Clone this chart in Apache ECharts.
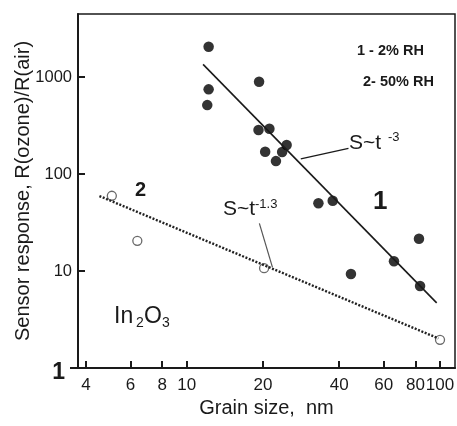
<!DOCTYPE html>
<html>
<head>
<meta charset="utf-8">
<script src="https://cdn.jsdelivr.net/npm/echarts@6/dist/echarts.min.js"></script>
<style>
  html, body { margin: 0; padding: 0; background: #fff; }
  #chart { width: 457px; height: 426px; }
</style>
</head>
<body>
<div id="chart"></div>
<script>
    'use strict';

    // series 1 (2% RH), filled dots: [grain size nm, response]
    var dry_points = [
        [12.2, 2050], [19.3, 895], [12.2, 747], [12.05, 514],
        [19.2, 284], [21.2, 293], [20.4, 170], [24.8, 199],
        [23.8, 169], [22.5, 136], [33.1, 50], [37.7, 53],
        [82.6, 21.5], [65.8, 12.6], [44.5, 9.3], [83.4, 7.0]
    ];
    // series 2 (50% RH), open circles
    var wet_points = [[5.06, 59.7], [6.38, 20.5], [20.2, 10.7], [100, 1.95]];

    // fitted lines
    var fit1 = [[11.6, 1350], [97, 4.7]];
    var fit2 = [[4.52, 59.3], [98.5, 2.02]];

    // leader lines of the S~t labels
    var lead1 = [[28.2, 143], [43.5, 184]];
    var lead2 = [[19.35, 31], [21.8, 10.9]];

    var x_ticks = [4, 6, 8, 10, 20, 40, 60, 80, 100];
    var y_ticks = [1, 10, 100, 1000];

    var sans = "'Liberation Sans', Arial, sans-serif";
    var ink = '#1a1a1a';

    var chart = echarts.init(document.getElementById('chart'));

    var option = {
        animation: false,
        backgroundColor: '#fff',
        grid: {
            left: 78, right: 2, top: 14, bottom: 58,
            outerBoundsMode: 'none',
            containLabel: false,
            show: true,
            borderColor: ink,
            borderWidth: 1.5
        },
        xAxis: {
            type: 'log',
            logBase: 10,
            min: 3.72,
            max: 114.6,
            name: 'Grain size,  nm',
            nameLocation: 'middle',
            nameMoveOverlap: false,
            nameGap: 30,
            nameTextStyle: { fontFamily: sans, fontSize: 20, color: ink },
            axisLine: { show: true, lineStyle: { color: ink, width: 2 } },
            axisTick: {
                show: true, inside: true, length: 7,
                customValues: x_ticks,
                lineStyle: { color: ink, width: 2 }
            },
            axisLabel: {
                customValues: x_ticks,
                margin: 9,
                fontFamily: sans, fontSize: 17, color: ink,
                formatter: function (v) { return String(Math.round(v)); }
            },
            splitLine: { show: false },
            minorTick: { show: false }
        },
        yAxis: {
            type: 'log',
            logBase: 10,
            min: 1,
            max: 4470,
            name: 'Sensor response, R(ozone)/R(air)',
            nameLocation: 'middle',
            nameMoveOverlap: false,
            nameGap: 45,
            nameTextStyle: { fontFamily: sans, fontSize: 20, color: ink },
            axisLine: { show: true, lineStyle: { color: ink, width: 2 } },
            axisTick: {
                show: true, inside: true, length: 7,
                customValues: y_ticks,
                lineStyle: { color: ink, width: 2 }
            },
            axisLabel: {
                customValues: y_ticks,
                margin: 6,
                fontFamily: sans, fontSize: 16.5, color: ink,
                formatter: function (v) {
                    var s = String(Math.round(v));
                    return s === '1' ? '{one|1}' : s;
                },
                rich: {
                    one: { fontFamily: sans, fontSize: 23, fontWeight: 'bold', color: ink, padding: [9, 7, 0, 0] }
                }
            },
            splitLine: { show: false },
            minorTick: { show: false }
        },
        series: [
            {
                name: 'fit1', type: 'line', data: fit1,
                symbol: 'none', silent: true,
                lineStyle: { color: ink, width: 1.6 }
            },
            {
                name: 'fit2', type: 'line', data: fit2,
                symbol: 'none', silent: true,
                lineStyle: { color: '#222', width: 2.4, type: [2, 1.6] }
            },
            {
                name: 'lead1', type: 'line', data: lead1,
                symbol: 'none', silent: true,
                lineStyle: { color: ink, width: 1.3 }
            },
            {
                name: 'lead2', type: 'line', data: lead2,
                symbol: 'none', silent: true,
                lineStyle: { color: '#555', width: 1.2 }
            },
            {
                name: '1', type: 'scatter', data: dry_points,
                symbol: 'circle', symbolSize: 10.5,
                itemStyle: { color: '#000' }
            },
            {
                name: '2', type: 'scatter', data: wet_points,
                symbol: 'circle', symbolSize: 9,
                itemStyle: { color: '#fff', borderColor: '#444', borderWidth: 1.3 }
            }
        ],
        graphic: [
            // x axis line runs a little past the y axis
            { type: 'line', shape: { x1: 70, y1: 368, x2: 79, y2: 368 }, style: { stroke: ink, lineWidth: 2 } },
            { type: 'text', left: 357, top: 43, style: { text: '1 - 2% RH', fontFamily: sans, fontSize: 14.5, fontWeight: 'bold', fill: ink } },
            { type: 'text', left: 363, top: 74, style: { text: '2- 50% RH', fontFamily: sans, fontSize: 14.5, fontWeight: 'bold', fill: ink } },
            { type: 'text', left: 373, top: 189, style: { text: '1', fontFamily: sans, fontSize: 26, fontWeight: 'bold', fill: ink } },
            { type: 'text', left: 135, top: 180, style: { text: '2', fontFamily: sans, fontSize: 20, fontWeight: 'bold', fill: ink } },
            { type: 'text', left: 349, top: 133, style: { text: 'S~t', fontFamily: sans, fontSize: 21, fill: ink } },
            { type: 'text', left: 388, top: 131, style: { text: '-3', fontFamily: sans, fontSize: 13, fill: ink } },
            { type: 'text', left: 223, top: 199, style: { text: 'S~t', fontFamily: sans, fontSize: 21, fill: ink } },
            { type: 'text', left: 255, top: 198, style: { text: '-1.3', fontFamily: sans, fontSize: 13, fill: ink } },
            { type: 'text', left: 114, top: 305, style: { text: 'In', fontFamily: sans, fontSize: 23, fill: ink } },
            { type: 'text', left: 136, top: 316, style: { text: '2', fontFamily: sans, fontSize: 14, fill: ink } },
            { type: 'text', left: 144, top: 305, style: { text: 'O', fontFamily: sans, fontSize: 23, fill: ink } },
            { type: 'text', left: 162, top: 316, style: { text: '3', fontFamily: sans, fontSize: 14, fill: ink } }
        ]
    };

    chart.setOption(option);
</script>
</body>
</html>
